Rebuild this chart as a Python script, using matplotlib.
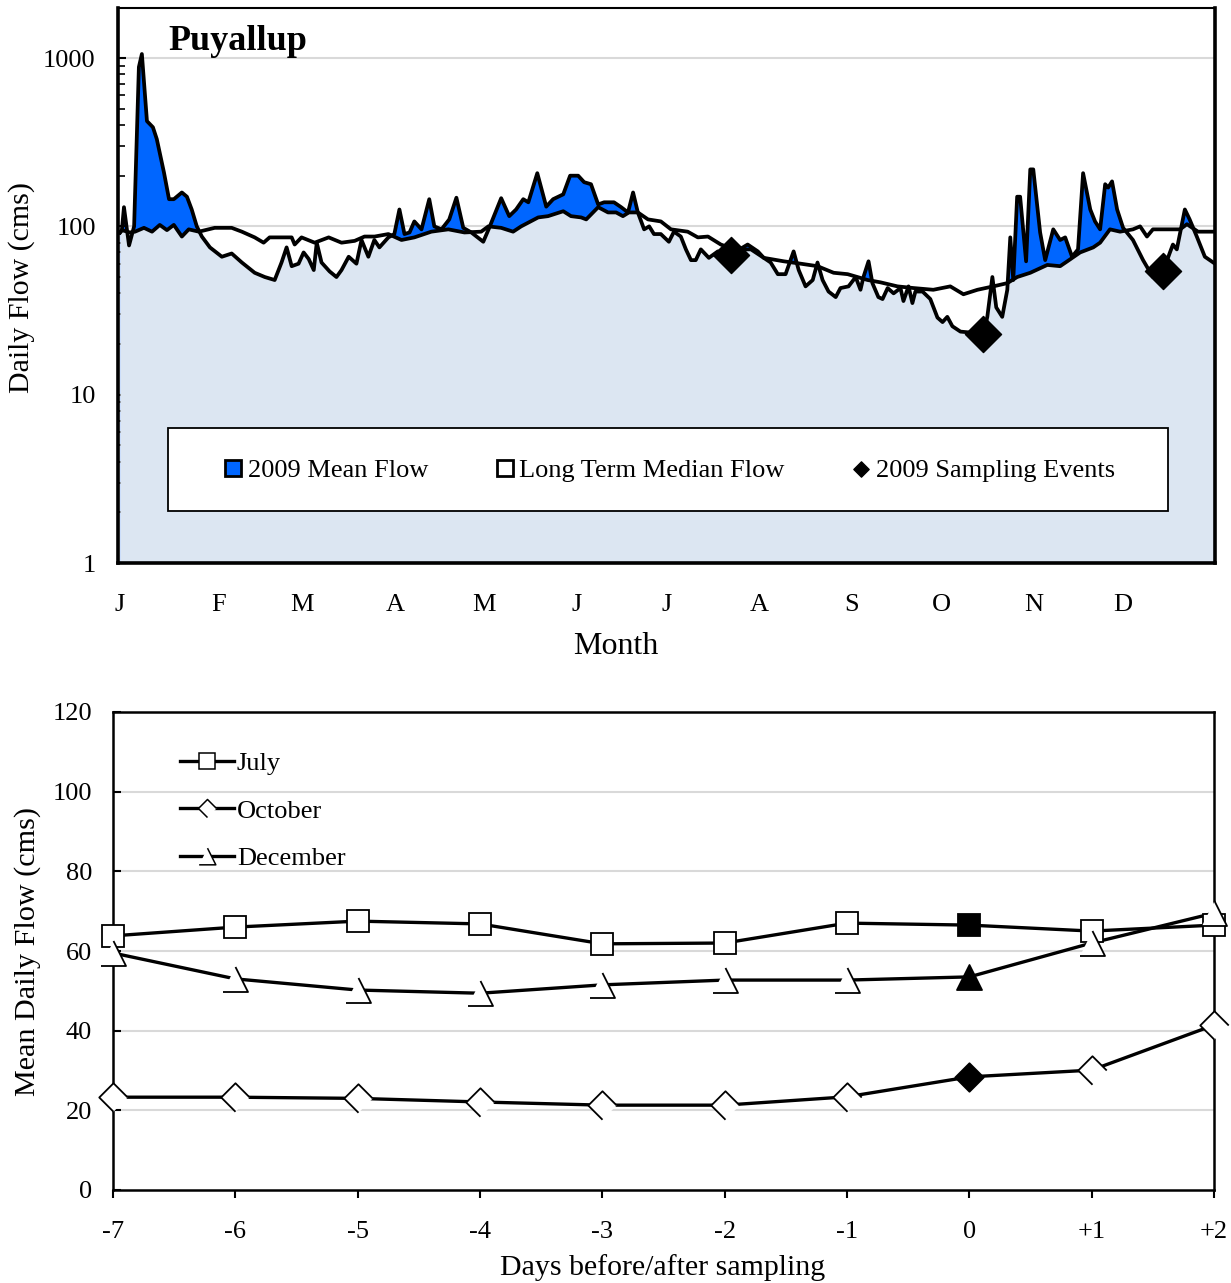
import numpy as np
import matplotlib
matplotlib.use("Agg")
import matplotlib.pyplot as plt
from matplotlib.path import Path
from matplotlib.patches import Patch, Rectangle
from matplotlib.lines import Line2D

plt.rcParams['font.family'] = ['Liberation Serif', 'DejaVu Serif']

# ---- top panel: daily flow, day of year ----
flow_day = [0.7, 1.3, 2.0, 3.7, 5.4, 7.0, 8.0, 9.7, 11.7, 13.0, 15.4, 17.1, 18.7, 21.4, 23.1, 24.7,
            26.4, 28.1, 30.8, 34.8, 38.1, 41.5, 45.8, 49.2, 52.5, 54.8, 56.5, 58.2, 60.5, 62.2,
            63.9, 65.6, 66.6, 68.2, 70.9, 73.2, 74.9, 77.3, 79.9, 81.6, 83.9, 85.9, 87.6, 90.6,
            92.6, 94.3, 96.0, 97.7, 99.3, 101.7, 104.3, 106.0, 108.4, 111.0, 113.4, 115.7, 118.4,
            122.4, 124.4, 128.4, 131.1, 133.4, 135.8, 137.5, 140.5, 143.5, 145.8, 149.2, 151.5,
            154.2, 156.2, 158.5, 160.9, 162.9, 166.2, 168.6, 170.9, 172.6, 174.2, 176.3, 178.0,
            179.6, 181.9, 184.6, 186.3, 188.6, 190.3, 192.0, 193.6, 195.3, 198.0, 201.0, 205.4,
            211.0, 214.4, 216.4, 218.7, 221.1, 223.7, 226.4, 228.1, 230.4, 232.8, 234.4, 236.1,
            238.1, 240.5, 242.1, 244.8, 247.2, 248.8, 249.8, 251.5, 252.8, 254.8, 256.2, 257.9,
            259.9, 262.2, 263.2, 264.9, 266.2, 267.2, 269.6, 272.2, 274.6, 276.3, 277.9, 279.6,
            282.3, 285.6, 290.0, 291.3, 293.0, 294.3, 296.3, 298.0, 299.0, 300.0, 301.3, 302.3,
            304.3, 305.7, 306.7, 309.0, 310.7, 313.4, 315.7, 317.4, 319.7, 321.7, 323.4, 325.8,
            327.4, 329.1, 330.8, 331.8, 333.1, 334.8, 336.8, 340.1, 343.5, 346.8, 350.2, 352.5,
            353.5, 354.8, 357.5, 359.1, 361.5, 364.2, 367.6]
flow_cms = [92, 95, 130, 77, 100, 884, 1057, 422, 388, 330, 209, 145, 145, 159, 150, 126,
            100, 87, 75, 66, 69, 61, 53, 50, 48, 61, 75, 58, 60, 70,
            64, 55, 80, 61, 54, 50, 55, 66, 60, 83, 66, 83, 75, 86,
            90, 126, 90, 92, 107, 96, 145, 100, 96, 110, 148, 98, 92,
            81, 98, 147, 115, 126, 145, 139, 207, 131, 145, 155, 200,
            200, 183, 178, 135, 139, 139, 130, 121, 159, 121, 96, 100,
            90, 90, 81, 93, 87, 73, 63, 63, 73, 65, 71, 68,
            78, 71, 65, 61, 52, 52, 71, 55, 44, 48, 61, 48,
            41, 38, 43, 44, 50, 42, 50, 62, 46, 38, 37, 43,
            40, 43, 36, 44, 35, 41, 41, 37, 28.7, 27, 29, 25.5,
            23.7, 23.4, 22.8, 29, 50, 33, 29, 42, 86, 48, 150, 150,
            62, 218, 218, 92, 63, 96, 83, 86, 66, 73, 207, 126,
            107, 96, 178, 170, 185, 126, 98, 83, 63, 50, 54, 70,
            78, 73, 126, 110, 87, 66, 60]

median_day = [0.7, 1.3, 4.0, 5.7, 8.7, 11.4, 14.0, 16.4, 18.7, 21.4, 23.7, 27.1, 32.4, 38.1, 41.5,
              45.8, 48.8, 50.8, 53.8, 58.2, 59.2, 61.5, 65.9, 70.6, 74.9, 79.3, 82.6, 86.0, 90.6,
              95.0, 99.3, 105.0, 110.7, 116.1, 121.7, 124.1, 128.4, 132.4, 135.1, 140.8, 144.1,
              149.2, 151.8, 155.2, 156.9, 160.9, 164.2, 166.9, 169.2, 171.2, 174.2, 177.6, 181.9,
              185.3, 190.9, 194.3, 197.7, 202.0, 206.4, 212.1, 216.4, 223.1, 228.8, 234.4, 239.8,
              244.5, 251.2, 255.5, 261.2, 266.6, 273.2, 278.9, 283.3, 288.0, 293.3, 298.0, 301.3,
              305.7, 311.4, 315.7, 318.1, 322.4, 326.8, 329.1, 332.4, 335.8, 340.1, 342.5, 344.8,
              346.8, 351.5, 355.9, 358.2, 361.9, 367.6]
median_cms = [92, 95, 92, 93, 98, 93, 102, 95, 102, 87, 96, 93, 98, 98, 93,
              86, 80, 86, 86, 86, 78, 86, 80, 86, 80, 82, 87, 87, 90,
              83, 86, 93, 96, 92, 93, 100, 98, 93, 100, 113, 115,
              123, 115, 113, 110, 130, 121, 121, 115, 121, 121, 110, 107,
              96, 93, 86, 87, 78, 73, 73, 65, 62, 60, 58, 53,
              52, 48, 46.5, 44, 43, 42, 44, 39.5, 42, 44, 46, 50,
              53, 59, 58, 62, 70, 75, 80, 96, 93, 96, 100, 87,
              96, 96, 96, 103, 93, 93]

sample_day = [205.4, 290.0, 350.2]
sample_cms = [68, 23, 54]

month_start = [0, 31, 59, 90, 120, 151, 181, 212, 243, 273, 304, 334, 365]
month_labels = ['J', 'F', 'M', 'A', 'M', 'J', 'J', 'A', 'S', 'O', 'N', 'D']

# ---- bottom panel: days around sampling ----
rel_days = [-7, -6, -5, -4, -3, -2, -1, 0, 1, 2]
rel_labels = ['-7', '-6', '-5', '-4', '-3', '-2', '-1', '0', '+1', '+2']
july = [63.8, 66, 67.5, 66.8, 61.8, 62, 67, 66.5, 65, 66.5]
october = [23.3, 23.3, 23, 22.1, 21.3, 21.3, 23.4, 28.4, 30.1, 41.4]
december = [59.5, 53, 50.2, 49.4, 51.5, 52.7, 52.7, 53.5, 62, 69.5]

blue = '#0066ff'
light = '#dce6f2'
grid_c = '#d9d9d9'

W, H = 1231, 1283
fig = plt.figure(figsize=(W / 100, H / 100), dpi=100)

# top axes
ax = fig.add_axes([118 / W, 1 - 563 / H, (1215 - 118) / W, (563 - 8) / H])
ax.set_yscale('log')
ax.set_ylim(1, 1983)
ax.set_xlim(0.7, 367.6)
for v in [10, 100, 1000]:
    ax.axhline(v, color=grid_c, lw=1.5, zorder=0.5)

flow_fill = ax.fill_between(flow_day, 1, flow_cms, color=blue, lw=0, zorder=1)
ax.fill_between(median_day, 1, median_cms, color='white', lw=0, zorder=2)
low_fill = ax.fill_between(median_day, 1, median_cms, color=light, lw=0, zorder=3)
low_fill.set_clip_path(flow_fill.get_paths()[0], ax.transData)

ax.plot(median_day, median_cms, color='black', lw=2.7, zorder=4, solid_joinstyle='round')
ax.plot(flow_day, flow_cms, color='black', lw=2.7, zorder=5, solid_joinstyle='round')

diamond = Path([(0, -1), (-1, 0), (0, 1), (1, 0), (0, -1)],
               [Path.MOVETO, Path.LINETO, Path.LINETO, Path.LINETO, Path.CLOSEPOLY])
ax.plot(sample_day, sample_cms, ls='none', marker=diamond, ms=26, mfc='black', mec='black',
        zorder=6, clip_on=False)

ax.set_yticks([1, 10, 100, 1000])
ax.set_yticklabels(['1', '10', '100', '1000'])
ax.yaxis.set_minor_locator(matplotlib.ticker.LogLocator(base=10, subs=np.arange(2, 10)))
ax.yaxis.set_minor_formatter(matplotlib.ticker.NullFormatter())
ax.tick_params(axis='y', which='major', direction='in', length=6, width=1.5, labelsize=19, pad=16)
ax.tick_params(axis='y', which='minor', direction='in', length=5, width=1.2)

ax.set_xticks(month_start)
ax.set_xticklabels([])
label_pos = [0.7] + [d + 2.8 for d in month_start[1:-1]]
ax.set_xticks(label_pos, minor=True)
ax.set_xticklabels(month_labels, minor=True)
ax.tick_params(axis='x', which='major', direction='in', length=6, width=1.5)
ax.tick_params(axis='x', which='minor', length=0, labelsize=19, pad=22)

for s in ['left', 'bottom', 'right']:
    ax.spines[s].set_linewidth(2.6)
ax.spines['top'].set_linewidth(1.5)
for s in ax.spines.values():
    s.set_zorder(7)

ax.text((168 - 118) / 1097, (563 - 42) / 555, 'Puyallup', transform=ax.transAxes,
        fontsize=26, fontweight='bold', va='center', ha='left', zorder=8)

# legend box for the top panel
box = Rectangle(((168 - 118) / 1097, (563 - 511) / 555), 1000 / 1097, 83 / 555,
                transform=ax.transAxes, facecolor='white', edgecolor='black', lw=1.3, zorder=8)
ax.add_patch(box)
small_diamond = Line2D([], [], ls='none', marker=diamond, ms=11, mfc='black', mec='black')
handles = [Patch(facecolor=blue, edgecolor='black', lw=2.0),
           Patch(facecolor='white', edgecolor='black', lw=2.0),
           small_diamond]
leg = ax.legend(handles, ['2009 Mean Flow', 'Long Term Median Flow', '2009 Sampling Events'],
                loc='center', bbox_to_anchor=((670 - 118) / 1097, (563 - 471) / 555),
                ncol=3, frameon=False, fontsize=19, handlelength=0.6, handleheight=0.6,
                handletextpad=0.25, columnspacing=2.6, borderaxespad=0)
leg.set_zorder(9)

fig.text(22 / W, 1 - 287 / H, 'Daily Flow (cms)', rotation=90, fontsize=21.5,
         ha='center', va='center')
fig.text(616 / W, 1 - 647 / H, 'Month', fontsize=23, ha='center', va='center')

# bottom axes
bx = fig.add_axes([113 / W, 1 - 1190 / H, (1214 - 113) / W, (1190 - 712) / H])
bx.set_xlim(-7, 2)
bx.set_ylim(0, 120)
for v in [20, 40, 60, 80, 100]:
    bx.axhline(v, color=grid_c, lw=1.5, zorder=0.5)

open_diamond = Path([(0, -1), (-1, 0), (0, 1), (1, 0)])
open_tri = Path([(0, 1), (1, -1), (-1, -1)])
full_tri = Path([(0, 1), (1, -1), (-1, -1), (0, 1)],
                [Path.MOVETO, Path.LINETO, Path.LINETO, Path.CLOSEPOLY])

series = [(july, 's', 's', 16.5), (october, open_diamond, diamond, 20.5),
          (december, open_tri, full_tri, 18)]
open_idx = [i for i, d in enumerate(rel_days) if d != 0]
samp_idx = rel_days.index(0)
for vals, mk_open, mk_full, ms in series:
    bx.plot(rel_days, vals, color='black', lw=2.4, zorder=3, clip_on=False)
for vals, mk_open, mk_full, ms in series:
    bx.plot([rel_days[i] for i in open_idx], [vals[i] for i in open_idx], ls='none',
            marker=mk_open, ms=ms, mfc='white', mec='black', mew=1.3, zorder=4, clip_on=False)
    bx.plot([rel_days[samp_idx]], [vals[samp_idx]], ls='none', marker=mk_full, ms=ms,
            mfc='black', mec='black', mew=1.3, zorder=5, clip_on=False)

bx.set_xticks(rel_days)
bx.set_xticklabels(rel_labels)
bx.set_yticks([0, 20, 40, 60, 80, 100, 120])
bx.tick_params(axis='x', direction='out', length=6, width=1.5, labelsize=19, pad=16)
bx.tick_params(axis='y', direction='in', length=6, width=1.5, labelsize=19, pad=15)
for s in bx.spines.values():
    s.set_linewidth(1.8)
    s.set_zorder(2)

leg_handles = [Line2D([], [], color='black', lw=2.4, marker='s', ms=11, mfc='white', mec='black', mew=1.1),
               Line2D([], [], color='black', lw=2.4, marker=open_diamond, ms=13, mfc='white', mec='black', mew=1.1),
               Line2D([], [], color='black', lw=2.4, marker=open_tri, ms=12, mfc='white', mec='black', mew=1.1)]
bx.legend(leg_handles, ['July', 'October', 'December'], loc='upper left',
          bbox_to_anchor=((180 - 113) / 1101, (1190 - 752) / 478), frameon=False,
          fontsize=19, handlelength=2.05, handletextpad=0.1, labelspacing=0.9,
          borderpad=0, borderaxespad=0)

fig.text(28 / W, 1 - 952 / H, 'Mean Daily Flow (cms)', rotation=90, fontsize=21.7,
         ha='center', va='center')
fig.text(663 / W, 1 - 1268 / H, 'Days before/after sampling', fontsize=21.5,
         ha='center', va='center')

fig.savefig('out.png', dpi=100)
